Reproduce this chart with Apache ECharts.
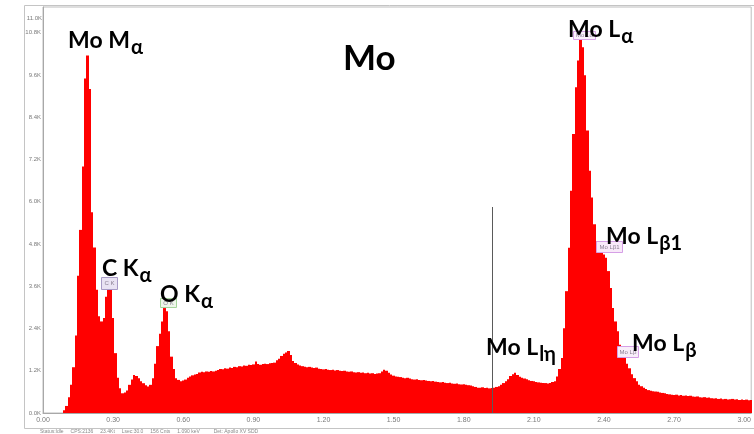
<!DOCTYPE html>
<html>
<head>
<meta charset="utf-8">
<script src="https://cdn.jsdelivr.net/npm/echarts@6/dist/echarts.min.js"></script>
<style>
  html, body { margin: 0; padding: 0; background: #fff; }
  #chart { width: 754px; height: 434px; }
</style>
</head>
<body>
<div id="chart"></div>
<script>
// EDS spectrum of a Mo sample, 10 eV channels starting at 0 keV
const channelStart = 0;
const channelWidth = 0.01;

// counts per channel, 0.00 - 0.99 keV (Mo M, C K, O K region)
const countsLow = [
  0, 0, 0, 0, 0, 0, 0, 0, 0, 80,
  200, 450, 800, 1300, 2200, 3900, 5200, 7000, 9500, 10150,
  9200, 5700, 4700, 3500, 2750, 2600, 2700, 3300, 3600, 3550,
  2700, 1700, 1000, 700, 560, 580, 640, 800, 950, 1080,
  1050, 990, 900, 846, 790, 750, 800, 990, 1400, 1900,
  2250, 2600, 2980, 2890, 2320, 1600, 1250, 990, 940, 900,
  920, 950, 1000, 1040, 1070, 1090, 1110, 1150, 1170, 1160,
  1180, 1170, 1190, 1180, 1200, 1220, 1250, 1240, 1270, 1260,
  1290, 1280, 1310, 1300, 1330, 1320, 1350, 1340, 1370, 1360,
  1380, 1460, 1390, 1370, 1390, 1400, 1390, 1410, 1420, 1430
];
// 1.00 - 1.99 keV (bremsstrahlung background)
const countsMid = [
  1500, 1540, 1620, 1680, 1720, 1760, 1650, 1480, 1420, 1380,
  1350, 1330, 1310, 1300, 1310, 1290, 1280, 1290, 1260, 1250,
  1240, 1250, 1230, 1220, 1230, 1210, 1220, 1200, 1190, 1200,
  1180, 1170, 1180, 1160, 1150, 1160, 1140, 1150, 1130, 1140,
  1120, 1130, 1110, 1120, 1130, 1180, 1230, 1200, 1140, 1090,
  1060, 1040, 1030, 1020, 1000, 990, 1000, 980, 960, 950,
  960, 940, 930, 940, 920, 910, 900, 910, 890, 880,
  870, 880, 860, 850, 860, 840, 830, 840, 820, 810,
  820, 800, 790, 780, 760, 740, 720, 720, 730, 710,
  720, 700, 710, 720, 740, 760, 800, 850, 900, 960
];
// 2.00 - 3.03 keV (Mo L family)
const countsHigh = [
  1050, 1100, 1140, 1080, 1030, 1000, 980, 960, 930, 910,
  900, 880, 870, 860, 850, 850, 840, 850, 880, 900,
  1040, 1250, 1560, 2410, 3460, 4690, 6310, 7920, 9250, 10010,
  10680, 10390, 9590, 8020, 6880, 6120, 5360, 4880, 4700, 4600,
  4500, 4410, 4030, 3550, 2980, 2600, 2320, 1940, 1750, 1560,
  1400, 1270, 1100, 990, 900, 800, 760, 720, 680, 650,
  630, 620, 610, 600, 580, 570, 560, 540, 530, 520,
  510, 520, 500, 510, 490, 500, 480, 490, 470, 460,
  470, 450, 440, 450, 430, 440, 420, 410, 420, 400,
  410, 390, 400, 380, 390, 400, 380, 390, 370, 380,
  370, 380, 360, 370
];

// axis ticks
const energyTicks = ['0.00', '0.30', '0.60', '0.90', '1.20', '1.50', '1.80', '2.10', '2.40', '2.70', '3.00'];
const countTicks = ['0.0K', '1.2K', '2.4K', '3.6K', '4.8K', '6.0K', '7.2K', '8.4K', '9.6K', '10.8K'];
const fullScaleLabel = '11.0K';

// cursor marker
const cursorEnergy = [1.922];
const cursorHeight = [5850];

// peak identifications: main text and subscript
const lineNames = ['Mo M', 'C K', 'O K', 'Mo L', 'Mo L', 'Mo L', 'Mo L'];
const lineSubs = ['α', 'α', 'α', 'lη', 'α', 'β1', 'β'];
// small marker tags placed by the analysis software
const tagTexts = ['C K', 'O K', 'Mo Lα', 'Mo Lβ1', 'Mo Lβ'];
const title = 'Mo';
const statusText = 'Status:Idle     CPS:2136     23.4Kt     Lsec:30.0     156 Cnts     1.090 keV          Det: Apollo XV SDD';

const counts = countsLow.concat(countsMid, countsHigh);
const spectrum = counts.map((c, i) => [+(channelStart + i * channelWidth).toFixed(2), c]);

const chart = echarts.init(document.getElementById('chart'), null, { renderer: 'canvas' });

// --- layout of the annotation text ---
const labelFont = 'Lato, "Open Sans", sans-serif';
const mainSize = 23, subSize = 20;
const labelPos = [[68, 31], [102, 259], [160, 285], [486, 338], [568, 20], [606, 227], [632, 334]];
const tagBoxes = [
  { x: 101, y: 277, w: 16, h: 12, stroke: '#a79ac6', fill: '#e9e3f3' },
  { x: 160, y: 298, w: 16, h: 9, stroke: '#a6d49c', fill: '#eef7ea' },
  { x: 573, y: 31, w: 22, h: 8, stroke: '#d7a6e6', fill: '#fbf3fc' },
  { x: 596, y: 241, w: 26, h: 11, stroke: '#d59fe6', fill: '#f8e9f9' },
  { x: 617, y: 346, w: 21, h: 11, stroke: '#d59fe6', fill: '#f8eef9' }
];

const measureCtx = document.createElement('canvas').getContext('2d');
function textWidth(str, font) {
  measureCtx.font = font;
  return measureCtx.measureText(str).width;
}

const graphics = [];
// outer panel frame
graphics.push({
  type: 'rect', z: 0, silent: true,
  shape: { x: 24.5, y: 5.5, width: 760, height: 423 },
  style: { fill: 'none', stroke: '#c4c4c4', lineWidth: 1 }
});
// full-scale label on the count axis
graphics.push({
  type: 'text', z: 5, silent: true, x: 42, y: 18,
  style: { text: fullScaleLabel, font: '6px "Liberation Sans", sans-serif', fill: '#7a7a7a',
           align: 'right', verticalAlign: 'middle', textAlign: 'right', textVerticalAlign: 'middle' }
});
// status line under the panel
graphics.push({
  type: 'text', z: 5, silent: true, x: 40, y: 431.5,
  style: { text: statusText, font: '5px "Liberation Sans", sans-serif', fill: '#8a8a8a',
           verticalAlign: 'middle', textVerticalAlign: 'middle' }
});
// tags
tagTexts.forEach((t, i) => {
  const b = tagBoxes[i];
  graphics.push({
    type: 'rect', z: 20, silent: true,
    shape: { x: b.x + 0.5, y: b.y + 0.5, width: b.w, height: b.h },
    style: { fill: b.fill, stroke: b.stroke, lineWidth: 1 }
  });
  graphics.push({
    type: 'text', z: 21, silent: true, x: b.x + b.w / 2 + 0.5, y: b.y + b.h / 2 + 0.5,
    style: { text: t, font: '6px "Liberation Sans", sans-serif', fill: '#8a7f92',
             align: 'center', verticalAlign: 'middle', textAlign: 'center', textVerticalAlign: 'middle' }
  });
});
// peak labels with subscripts
lineNames.forEach((name, i) => {
  const [x, capTop] = labelPos[i];
  const mFont = 'bold ' + mainSize + 'px ' + labelFont;
  const sFont = 'bold ' + subSize + 'px ' + labelFont;
  const w = textWidth(name, mFont);
  graphics.push({
    type: 'text', z: 30, silent: true, x: x, y: capTop - 2,
    style: { text: name, font: mFont, fill: '#000', verticalAlign: 'top', textVerticalAlign: 'top' }
  });
  graphics.push({
    type: 'text', z: 30, silent: true, x: x + w + 1, y: capTop + 7,
    style: { text: lineSubs[i], font: sFont, fill: '#000', verticalAlign: 'top', textVerticalAlign: 'top' }
  });
});
// element title
graphics.push({
  type: 'text', z: 30, silent: true, x: 343, y: 41,
  style: { text: title, font: 'bold 35px ' + labelFont, fill: '#000', verticalAlign: 'top', textVerticalAlign: 'top' }
});

// each channel is a filled column; column edges snap to whole pixels so neighbours join seamlessly
function renderChannel(params, api) {
  const e = api.value(0);
  const c = api.value(1);
  const top = api.coord([e - channelWidth / 2, c]);
  const base = api.coord([e + channelWidth / 2, 0]);
  const x0 = Math.round(top[0]);
  const x1 = Math.round(base[0]);
  if (x1 <= x0 || c <= 0) return null;
  return {
    type: 'rect',
    shape: { x: x0, y: top[1], width: x1 - x0, height: base[1] - top[1] },
    style: { fill: '#ff0000' }
  };
}

chart.setOption({
  animation: false,
  backgroundColor: '#fff',
  grid: { left: 43, right: 0, top: 7, bottom: 21, show: true, borderColor: '#bdbdbd', borderWidth: 1, backgroundColor: 'transparent' },
  xAxis: {
    type: 'value', min: 0, max: 3.03, interval: 0.3,
    axisLine: { show: true, lineStyle: { color: '#a8a8a8', width: 1 } },
    axisTick: { show: false },
    splitLine: { show: false },
    axisLabel: {
      showMaxLabel: false, margin: 4, fontSize: 7, color: '#7a7a7a', fontFamily: '"Liberation Sans", sans-serif',
      formatter: v => energyTicks[Math.round(v / 0.3)] || ''
    }
  },
  yAxis: {
    type: 'value', min: 0, max: 11530, interval: 1200,
    axisLine: { show: true, lineStyle: { color: '#a8a8a8', width: 1 } },
    axisTick: { show: false },
    splitLine: { show: false },
    axisLabel: {
      showMaxLabel: false, margin: 2, fontSize: 6, color: '#7a7a7a', fontFamily: '"Liberation Sans", sans-serif',
      formatter: v => countTicks[Math.round(v / 1200)] || ''
    }
  },
  series: [{
    type: 'custom',
    data: spectrum,
    renderItem: renderChannel,
    clip: true,
    silent: true,
    encode: { x: 0, y: 1 },
    markLine: {
      silent: true,
      symbol: ['none', 'none'],
      label: { show: false },
      lineStyle: { color: '#5a5a5a', width: 1, type: 'solid' },
      data: [[{ coord: [cursorEnergy[0], 0] }, { coord: [cursorEnergy[0], cursorHeight[0]] }]]
    }
  }],
  graphic: graphics
});
</script>
</body>
</html>
